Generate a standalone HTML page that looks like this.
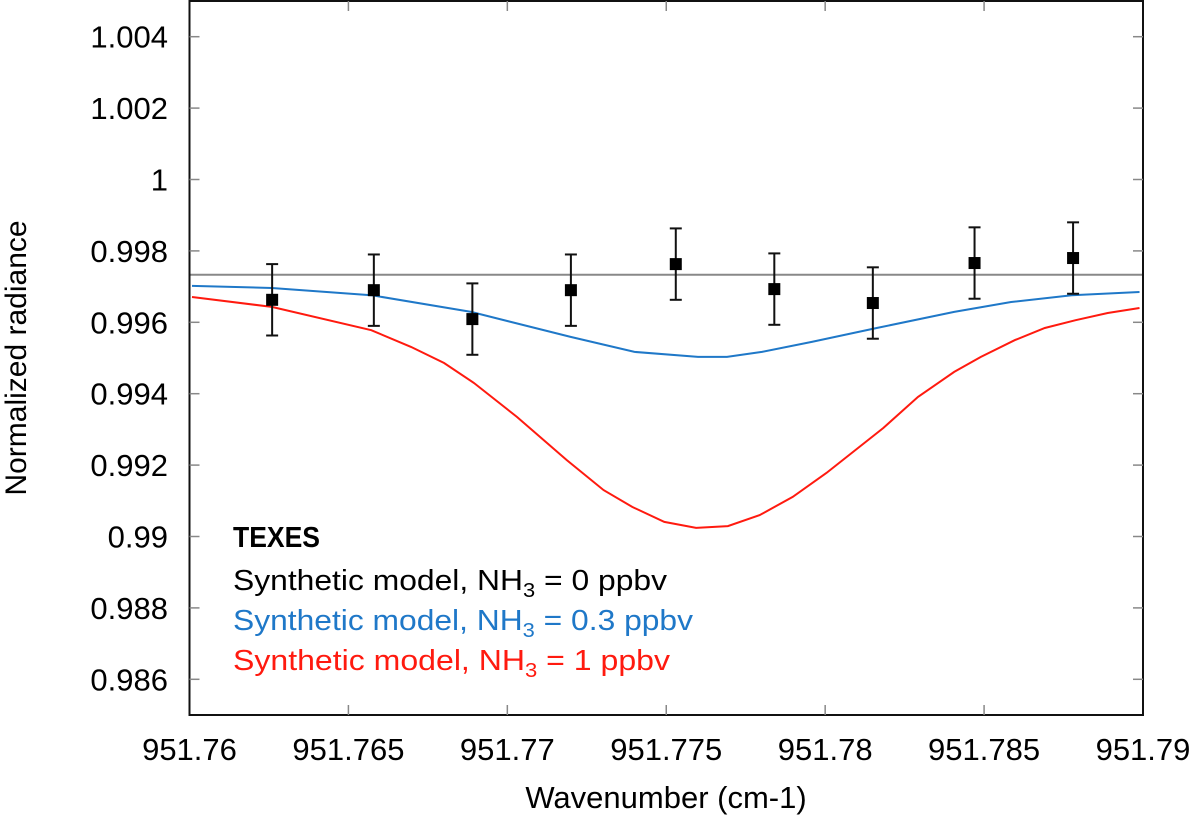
<!DOCTYPE html>
<html><head><meta charset="utf-8"><style>
html,body{margin:0;padding:0;background:#fff;}
svg{display:block;font-family:"Liberation Sans",Arial,sans-serif;}
</style></head><body>
<svg id="chart" width="1200" height="820" viewBox="0 0 1200 820" xmlns="http://www.w3.org/2000/svg">
<g id="grid"></g>
<g id="series"></g>
<g id="axes"></g>
<g font-size="29">
<text x="233" y="547" font-weight="bold" fill="#000" textLength="87" lengthAdjust="spacingAndGlyphs">TEXES</text>
<text x="233" y="590" fill="#000" textLength="434" lengthAdjust="spacingAndGlyphs">Synthetic model, NH<tspan font-size="20" dy="7">3</tspan><tspan dy="-7"> = 0 ppbv</tspan></text>
<text x="233" y="630" fill="#1f78c8" textLength="460" lengthAdjust="spacingAndGlyphs">Synthetic model, NH<tspan font-size="20" dy="7">3</tspan><tspan dy="-7"> = 0.3 ppbv</tspan></text>
<text x="233" y="670" fill="#ff1a0f" textLength="437" lengthAdjust="spacingAndGlyphs">Synthetic model, NH<tspan font-size="20" dy="7">3</tspan><tspan dy="-7"> = 1 ppbv</tspan></text>
</g>
<text x="666" y="808" font-size="31" text-anchor="middle">Wavenumber (cm-1)</text>
<text transform="translate(26,358) rotate(-90)" font-size="30" text-anchor="middle">Normalized radiance</text>
</svg>
<script>
const xTicks = [951.76, 951.765, 951.77, 951.775, 951.78, 951.785, 951.79];
const xTickLabels = ["951.76", "951.765", "951.77", "951.775", "951.78", "951.785", "951.79"];
const yTicks = [0.986, 0.988, 0.99, 0.992, 0.994, 0.996, 0.998, 1.0, 1.002, 1.004];
const yTickLabels = ["0.986", "0.988", "0.99", "0.992", "0.994", "0.996", "0.998", "1", "1.002", "1.004"];
const obsX = [951.7626, 951.7658, 951.7689, 951.7720, 951.7753, 951.7784, 951.7815, 951.7847, 951.7878];
const obsY = [0.99663, 0.99690, 0.99609, 0.99690, 0.99763, 0.99693, 0.99654, 0.99766, 0.99780];
const obsErr = [0.001, 0.001, 0.001, 0.001, 0.001, 0.001, 0.001, 0.001, 0.001];
const model0X = [951.76, 951.79];
const model0Y = [0.99733, 0.99733];
const model03X = [951.76008, 951.76259, 951.76572, 951.76886, 951.77199, 951.77400, 951.77600, 951.77691, 951.77801, 951.77958, 951.78162, 951.78406, 951.78585, 951.78776, 951.78989];
const model03Y = [0.99702, 0.99696, 0.99676, 0.99629, 0.99559, 0.99517, 0.99503, 0.99503, 0.99517, 0.99545, 0.99584, 0.99629, 0.99657, 0.99676, 0.99685];
const model1X = [951.76008, 951.76259, 951.76572, 951.76697, 951.76801, 951.76895, 951.77030, 951.77187, 951.77303, 951.77393, 951.77494, 951.77594, 951.77694, 951.77794, 951.77898, 951.78004, 951.78183, 951.78292, 951.78406, 951.78490, 951.78597, 951.78691, 951.78788, 951.78889, 951.78989];
const model1Y = [0.99671, 0.99643, 0.99578, 0.99531, 0.99486, 0.99430, 0.99335, 0.99214, 0.99130, 0.99083, 0.99041, 0.99024, 0.99029, 0.99060, 0.99111, 0.99178, 0.99304, 0.99391, 0.99461, 0.99503, 0.99550, 0.99584, 0.99606, 0.99626, 0.99640];

const L = 189.5, R = 1143, T = 1, B = 715;
const X0 = 951.76, X1 = 951.79, Y0 = 0.985, Y1 = 1.005;
function sx(v){ return L + (v - X0) / (X1 - X0) * (R - L); }
function sy(v){ return B - (v - Y0) / (Y1 - Y0) * (B - T); }
const NS = "http://www.w3.org/2000/svg";
function mk(tag, attrs, parent){ const e = document.createElementNS(NS, tag); for (const k in attrs) e.setAttribute(k, attrs[k]); parent.appendChild(e); return e; }
const axes = document.getElementById('axes');
const series = document.getElementById('series');

function line(xs, ys, color, name){
  const d = xs.map((x,i)=> (i?'L':'M') + sx(x).toFixed(1) + ',' + sy(ys[i]).toFixed(1)).join(' ');
  const p = mk('path', {d: d, fill:'none', stroke: color, 'stroke-width': 2}, series);
  
  
}
line(model0X, model0Y, '#888', 'model-line-0ppbv');
line(model03X, model03Y, '#1f78c8', 'model-line-0.3ppbv');
line(model1X, model1Y, '#ff1a0f', 'model-line-1ppbv');

obsX.forEach((x,i)=>{
  const g = mk('g', {}, series);
  
  
  const cx = sx(x), yt = sy(obsY[i] + obsErr[i]), yb = sy(obsY[i] - obsErr[i]);
  mk('line', {x1:cx, x2:cx, y1:yt, y2:yb, stroke:'#111', 'stroke-width':2}, g);
  mk('line', {x1:cx-6, x2:cx+6, y1:yt, y2:yt, stroke:'#111', 'stroke-width':2}, g);
  mk('line', {x1:cx-6, x2:cx+6, y1:yb, y2:yb, stroke:'#111', 'stroke-width':2}, g);
  mk('rect', {x:cx-6, y:sy(obsY[i])-6, width:12, height:12, fill:'#000'}, g);
});

const fr = mk('rect', {x:L, y:T, width:R-L, height:B-T, fill:'none', stroke:'#111', 'stroke-width':2}, axes);



xTicks.forEach((v,i)=>{
  const x = sx(v);
  if (i>0 && i<xTicks.length-1){
    mk('line', {x1:x, x2:x, y1:B, y2:B-10, stroke:'#888', 'stroke-width':1.5}, axes);
    mk('line', {x1:x, x2:x, y1:T, y2:T+10, stroke:'#888', 'stroke-width':1.5}, axes);
  }
  const t = mk('text', {x:x, y:760, 'font-size':31, 'text-anchor':'middle', fill:'#000'}, axes);
  t.textContent = xTickLabels[i];
  
  
});
yTicks.forEach((v,i)=>{
  const y = sy(v);
  mk('line', {x1:L, x2:L+10, y1:y, y2:y, stroke:'#888', 'stroke-width':1.5}, axes);
  mk('line', {x1:R, x2:R-10, y1:y, y2:y, stroke:'#888', 'stroke-width':1.5}, axes);
  const t = mk('text', {x:168, y:y+11, 'font-size':31, 'text-anchor':'end', fill:'#000'}, axes);
  t.textContent = yTickLabels[i];
  
  
});
</script>
</body></html>
